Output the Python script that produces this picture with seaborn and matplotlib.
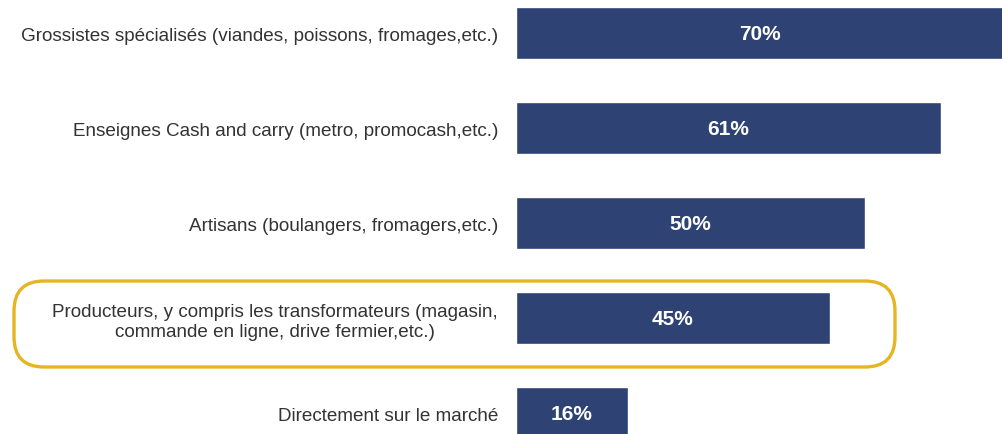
import matplotlib
matplotlib.use("Agg")
import matplotlib.pyplot as plt
import seaborn as sns
import pandas as pd
from matplotlib.patches import FancyBboxPatch

categories = [
    "Grossistes spécialisés (viandes, poissons, fromages,etc.)",
    "Enseignes Cash and carry (metro, promocash,etc.)",
    "Artisans (boulangers, fromagers,etc.)",
    "Producteurs, y compris les transformateurs (magasin,\ncommande en ligne, drive fermier,etc.)",
    "Directement sur le marché",
]
values = [70, 61, 50, 45, 16]
value_labels = ["70%", "61%", "50%", "45%", "16%"]

sns.set_theme(style="white")
plt.rcParams['font.family'] = ['Liberation Sans', 'DejaVu Sans']

df = pd.DataFrame({"cat": categories, "val": values})

fig = plt.figure(figsize=(10.02, 4.35), dpi=100)
ax = fig.add_axes([516 / 1002, 0, 1 - 516 / 1002, 1])
sns.barplot(data=df, y="cat", x="val", orient="h", color="#2E4374",
            saturation=1, width=0.55, ax=ax)

ax.set_xlim(0, 69.7)
ax.set_ylim(4.221, -0.358)
ax.set_xlabel("")
ax.set_ylabel("")
ax.set_xticks([])
for s in ax.spines.values():
    s.set_visible(False)
ax.tick_params(axis="y", length=0, pad=13, labelsize=13.6, labelcolor="#333333")
for t in ax.get_yticklabels():
    t.set_multialignment("center")
    t.set_linespacing(1.2)

for i, (v, lab) in enumerate(zip(values, value_labels)):
    ax.text(v / 2, i, lab, ha="center", va="center", color="white",
            fontsize=15, fontweight="bold")

box = FancyBboxPatch((14 / 1002, 1 - 368 / 435), (895 - 14) / 1002, (368 - 282) / 435,
                     boxstyle="round,pad=0,rounding_size=0.03",
                     transform=fig.transFigure, fill=False,
                     edgecolor="#E5B524", linewidth=2.4, zorder=10,
                     mutation_aspect=1002 / 435)
fig.patches.append(box)

fig.savefig("out.png", dpi=100)
